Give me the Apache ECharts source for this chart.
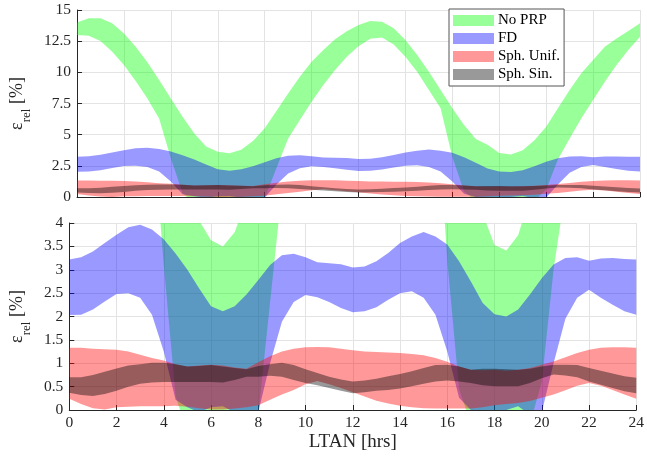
<!DOCTYPE html>
<html>
<head>
<meta charset="utf-8">
<script src="https://cdn.jsdelivr.net/npm/echarts@6/dist/echarts.min.js"></script>
<style>html,body{margin:0;padding:0;background:#fff;}#c{width:647px;height:456px;}</style>
</head>
<body>
<div id="c"></div>
<script>
const tHours = [0,0.5,1,1.5,2,2.5,3,3.5,4,4.5,5,5.5,6,6.5,7,7.5,8,8.5,9,9.5,10,10.5,11,11.5,12,12.5,13,13.5,14,14.5,15,15.5,16,16.5,17,17.5,18,18.5,19,19.5,20,20.5,21,21.5,22,22.5,23,23.5,24];
const xTicks = [0,2,4,6,8,10,12,14,16,18,20,22,24];
const seriesNames = ['No PRP','FD','Sph. Unif.','Sph. Sin.'];

const noPrpUpper = [14.0,14.33,14.33,13.93,13.12,12.06,10.8,9.38,7.91,6.44,5.1,4.05,3.63,3.5,3.8,4.5,5.51,6.9,8.31,9.65,10.85,11.79,12.65,13.3,13.8,14.11,14.06,13.53,12.59,11.39,10.05,8.58,7.11,5.77,4.65,4.2,3.53,3.41,3.74,4.55,5.64,7.11,8.58,9.92,10.99,12.06,12.72,13.31,13.93];
const noPrpLower = [12.99,12.94,12.51,11.65,10.59,9.3,7.91,6.3,3.1,0.3,-0.5,-0.5,-0.5,-0.5,-0.5,-0.4,-0.1,2.3,4.7,6.17,7.64,8.98,10.18,11.25,12.1,12.7,12.8,12.24,11.25,10.05,8.58,7.11,3.2,0.45,-0.3,-0.5,-0.5,-0.5,-0.1,-0.3,0.6,3.0,4.7,6.31,7.78,9.25,10.59,11.79,12.86];

const fdUpper = [3.22,3.27,3.39,3.57,3.75,3.91,3.96,3.86,3.65,3.35,3.0,2.6,2.22,2.11,2.22,2.47,2.78,3.1,3.31,3.34,3.27,3.16,3.14,3.12,3.05,3.07,3.18,3.36,3.57,3.71,3.81,3.71,3.54,3.18,2.75,2.29,2.05,2.0,2.15,2.47,2.82,3.11,3.25,3.27,3.19,3.24,3.25,3.23,3.22];
const fdLower = [2.03,2.04,2.15,2.32,2.48,2.5,2.4,2.04,1.25,0.22,0.06,-0.05,0.06,0.08,-0.05,-0.1,-0.05,1.0,1.89,2.31,2.46,2.41,2.31,2.18,2.09,2.11,2.2,2.36,2.5,2.54,2.4,2.04,1.25,0.26,0.0,-0.05,-0.05,0.0,0.08,-0.1,-0.05,1.0,1.95,2.4,2.57,2.4,2.25,2.11,2.04];

const unifUpper = [1.33,1.33,1.31,1.3,1.29,1.25,1.18,1.11,1.06,0.98,0.93,0.95,0.97,0.95,0.91,0.88,1.02,1.15,1.25,1.31,1.34,1.35,1.34,1.31,1.28,1.25,1.24,1.23,1.22,1.2,1.17,1.11,1.03,0.93,0.86,0.85,0.86,0.84,0.86,0.9,0.97,1.04,1.13,1.22,1.29,1.33,1.34,1.34,1.33];
const unifLower = [0.24,0.13,0.04,0.01,0.06,0.07,0.08,0.08,0.08,0.09,0.07,0.04,0.01,0.01,0.03,0.06,0.1,0.22,0.33,0.43,0.55,0.62,0.55,0.47,0.38,0.29,0.2,0.14,0.09,0.06,0.04,0.03,0.03,0.03,0.03,0.06,0.1,0.13,0.15,0.19,0.26,0.33,0.42,0.52,0.58,0.52,0.43,0.33,0.24];

const sinUpper = [0.7,0.7,0.75,0.82,0.89,0.95,0.98,1.01,1.01,0.98,0.93,0.94,0.96,0.93,0.9,0.87,0.94,0.98,1.01,0.96,0.87,0.79,0.71,0.65,0.61,0.63,0.67,0.72,0.77,0.83,0.9,0.96,0.97,0.93,0.86,0.88,0.88,0.87,0.86,0.88,0.93,0.97,0.97,0.96,0.9,0.84,0.78,0.72,0.69];
const sinLower = [0.37,0.32,0.3,0.34,0.41,0.5,0.56,0.59,0.6,0.6,0.6,0.6,0.6,0.59,0.64,0.71,0.71,0.73,0.71,0.64,0.58,0.53,0.47,0.41,0.36,0.38,0.41,0.43,0.46,0.51,0.56,0.61,0.63,0.61,0.58,0.53,0.51,0.51,0.51,0.58,0.68,0.76,0.74,0.7,0.61,0.54,0.47,0.4,0.36];

const bands = [
  {name: seriesNames[0], lo: noPrpLower, hi: noPrpUpper, color: 'rgba(0,255,0,0.4)'},
  {name: seriesNames[1], lo: fdLower, hi: fdUpper, color: 'rgba(0,0,255,0.4)'},
  {name: seriesNames[2], lo: unifLower, hi: unifUpper, color: 'rgba(255,0,0,0.4)'},
  {name: seriesNames[3], lo: sinLower, hi: sinUpper, color: 'rgba(0,0,0,0.4)'}
];

const FONT = 'Liberation Serif';
const TXT = '#262626';

function bandSeries(b, gi) {
  return {
    type: 'custom', name: b.name, xAxisIndex: gi, yAxisIndex: gi,
    clip: true, silent: true,
    itemStyle: {color: b.color},
    data: tHours.map((t, i) => [t, b.lo[i], b.hi[i]]),
    encode: {x: 0, y: [1, 2]},
    renderItem: function (params, api) {
      if (params.dataIndex !== 0) return null;
      const pts = [];
      for (let i = 0; i < tHours.length; i++) pts.push(api.coord([tHours[i], b.hi[i]]));
      for (let i = tHours.length - 1; i >= 0; i--) pts.push(api.coord([tHours[i], b.lo[i]]));
      return {type: 'polygon', shape: {points: pts}, style: {fill: b.color, stroke: null}};
    }
  };
}

function xAxisDef(gi, showLabels) {
  return {
    type: 'value', gridIndex: gi, min: 0, max: 24, interval: 2,
    axisLine: {show: true, lineStyle: {color: TXT, width: 1}},
    axisTick: {show: true, inside: true, length: 5, lineStyle: {color: TXT}},
    axisLabel: {show: showLabels, fontFamily: FONT, fontSize: 15.5, color: TXT, margin: 5},
    splitLine: {show: true, lineStyle: {color: '#e3e3e3', width: 1}},
    name: showLabels ? 'LTAN [hrs]' : '',
    nameLocation: 'middle', nameGap: 23,
    nameTextStyle: {fontFamily: FONT, fontSize: 19, color: TXT}
  };
}

const yName = '{a|ε}{s|rel}{a| [%]}';
function yAxisDef(gi, max, interval) {
  return {
    type: 'value', gridIndex: gi, min: 0, max: max, interval: interval,
    axisLine: {show: true, lineStyle: {color: TXT, width: 1}},
    axisTick: {show: true, inside: true, length: 5, lineStyle: {color: TXT}},
    axisLabel: {fontFamily: FONT, fontSize: 15.5, color: TXT, margin: 6},
    splitLine: {show: true, lineStyle: {color: '#e3e3e3', width: 1}},
    name: yName, nameLocation: 'middle', nameGap: 34, nameRotate: 90,
    nameTextStyle: {
      fontFamily: FONT, color: TXT,
      rich: {
        a: {fontFamily: FONT, fontSize: 18, lineHeight: 20, verticalAlign: 'top', color: TXT},
        s: {fontFamily: FONT, fontSize: 13, lineHeight: 13, padding: [12, 0, 0, 0], verticalAlign: 'top', color: TXT}
      }
    }
  };
}

const series = [];
[0, 1].forEach(gi => bands.forEach(b => series.push(bandSeries(b, gi))));

const chart = echarts.init(document.getElementById('c'), null, {renderer: 'canvas'});
chart.setOption({
  animation: false,
  backgroundColor: '#fff',
  grid: [
    {left: 69, top: 10, width: 571, height: 187},
    {left: 69, top: 223, width: 571, height: 187}
  ],
  xAxis: [xAxisDef(0, false), xAxisDef(1, true)],
  yAxis: [yAxisDef(0, 15, 2.5), yAxisDef(1, 4, 0.5)],
  legend: {
    orient: 'vertical', left: 449, top: 9,
    padding: [4, 4, 4, 4],
    itemWidth: 41, itemHeight: 11, itemGap: 3,
    icon: 'rect',
    backgroundColor: '#fff', borderColor: '#555', borderWidth: 1,
    textStyle: {fontFamily: FONT, fontSize: 15, color: '#000', padding: [0, 0, 0, -1]},
    data: bands.map(b => ({name: b.name, itemStyle: {color: b.color}}))
  },
  series: series
});
</script>
</body>
</html>
